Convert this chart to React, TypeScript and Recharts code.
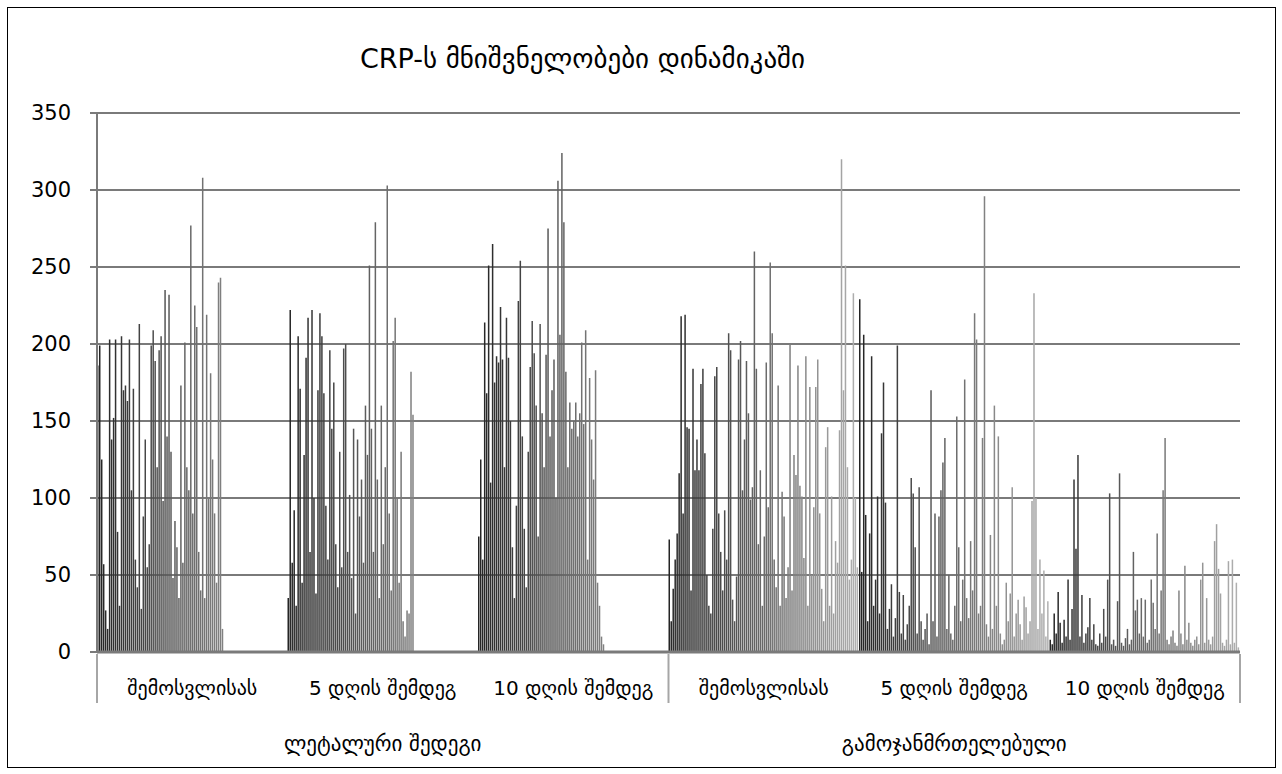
import React from "react";
import { BarChart, Bar, XAxis, YAxis, CartesianGrid } from "recharts";

// category labels (two levels)
const categories = [
  "შემოსვლისას",
  "5 დღის შემდეგ",
  "10 დღის შემდეგ",
  "შემოსვლისას",
  "5 დღის შემდეგ",
  "10 დღის შემდეგ",
];
const groups = [
  "ლეტალური შედეგი",
  "ლეტალური შედეგი",
  "ლეტალური შედეგი",
  "გამოჯანმრთელებული",
  "გამოჯანმრთელებული",
  "გამოჯანმრთელებული",
];
const yTicks = [0, 50, 100, 150, 200, 250, 300, 350];

// CRP per patient (one series per patient), lethal outcome: 64 patients
const lethalAdmission = [
  186, 199, 125, 57, 27, 15, 203, 138, 152, 203, 78, 30, 205, 170, 173, 163,
  203, 105, 171, 60, 42, 213, 28, 88, 138, 55, 70, 199, 209, 189, 120, 196,
  205, 98, 235, 140, 232, 130, 48, 85, 68, 35, 173, 58, 201, 120, 105, 277,
  90, 225, 211, 65, 40, 308, 35, 219, 100, 181, 125, 90, 45, 240, 243, 15,
];
const lethalDay5 = [
  35, 222, 58, 92, 30, 205, 171, 45, 128, 191, 217, 65, 222, 100, 38, 170,
  220, 205, 168, 95, 60, 196, 145, 175, 70, 42, 130, 55, 197, 200, 65, 102,
  48, 145, 25, 138, 88, 112, 58, 160, 128, 251, 145, 65, 279, 112, 35, 160,
  70, 120, 303, 90, 40, 202, 217, 100, 45, 130, 20, 10, 27, 25, 182, 154,
];
const lethalDay10 = [
  75, 125, 60, 214, 168, 251, 110, 265, 175, 192, 188, 224, 190, 120, 217, 191,
  150, 68, 35, 95, 228, 254, 140, 80, 42, 130, 185, 215, 194, 160, 75, 213,
  155, 120, 193, 275, 140, 170, 190, 100, 306, 206, 324, 279, 182, 120, 162, 145,
  150, 162, 140, 155, 201, 148, 209, 60, 178, 138, 112, 183, 45, 30, 10, 5,
];

// recovered: 96 patients
const recoveredAdmission = [
  73, 20, 41, 60, 77, 116, 218, 90, 219, 146, 145, 40, 184, 118, 138, 118,
  174, 184, 129, 50, 30, 25, 80, 179, 185, 90, 65, 40, 92, 60, 207, 196,
  34, 20, 49, 190, 202, 105, 138, 189, 155, 99, 107, 260, 184, 70, 118, 30,
  75, 188, 94, 253, 207, 60, 42, 173, 30, 104, 88, 35, 55, 200, 40, 128,
  115, 186, 108, 101, 61, 192, 30, 172, 50, 94, 172, 190, 90, 41, 20, 133,
  146, 30, 101, 25, 72, 58, 144, 320, 170, 251, 120, 47, 60, 233, 100, 55,
];
const recoveredDay5 = [
  229, 52, 206, 89, 20, 77, 192, 30, 47, 101, 25, 142, 175, 97, 15, 28,
  44, 10, 22, 199, 39, 12, 37, 8, 18, 30, 113, 103, 68, 12, 107, 20,
  8, 15, 25, 5, 170, 20, 90, 10, 88, 105, 123, 139, 15, 50, 12, 8,
  30, 153, 68, 20, 47, 177, 35, 22, 72, 40, 220, 203, 25, 30, 139, 296,
  18, 10, 76, 15, 160, 30, 140, 12, 5, 8, 45, 20, 38, 107, 10, 25,
  34, 18, 8, 36, 29, 12, 20, 98, 233, 100, 15, 60, 25, 53, 10, 33,
];
const recoveredDay10 = [
  8, 5, 25, 12, 39, 19, 6, 21, 10, 47, 8, 28, 112, 67, 128, 10,
  37, 6, 12, 16, 35, 8, 18, 5, 4, 12, 6, 28, 10, 47, 103, 5,
  8, 4, 33, 116, 6, 4, 9, 15, 5, 8, 65, 27, 34, 12, 35, 10,
  34, 6, 8, 47, 32, 15, 77, 12, 40, 105, 139, 8, 5, 10, 14, 6,
  4, 40, 12, 5, 56, 8, 19, 6, 4, 8, 10, 5, 47, 58, 6, 35,
  8, 5, 10, 72, 83, 54, 38, 6, 4, 8, 59, 5, 60, 6, 45, 3,
];

const SERIES = 96;
const columns = [
  lethalAdmission,
  lethalDay5,
  lethalDay10,
  recoveredAdmission,
  recoveredDay5,
  recoveredDay10,
];

const data = categories.map((cat, c) => {
  const row: Record<string, any> = { cat, group: groups[c] };
  for (let i = 0; i < SERIES; i++) row[`s${i}`] = columns[c][i] ?? null;
  return row;
});

const W = 1282;
const H = 774;
const PLOT_LEFT = 97;
const PLOT_RIGHT = 1240;
const PLOT_TOP = 113;
const PLOT_BOTTOM = 652;
const BAND = (PLOT_RIGHT - PLOT_LEFT) / categories.length;
const FONT = "'DejaVu Sans', sans-serif";
const AXIS = "#7a7a7a";

// dark-to-light grey per patient series
const shade = (i: number) => {
  const l = Math.round(36 + (140 * i) / (SERIES - 1));
  return `rgb(${l},${l},${l})`;
};

const CatTick = (props: any) => {
  const { x, payload, index } = props;
  const sepY1 = PLOT_BOTTOM + 2;
  const sepY2 = PLOT_BOTTOM + 51;
  return (
    <g>
      {(index === 0 || index === 3) && (
        <line x1={x - BAND / 2} x2={x - BAND / 2} y1={sepY1} y2={sepY2} stroke="#a6a6a6" strokeWidth={2} />
      )}
      {index === 5 && (
        <line x1={x + BAND / 2} x2={x + BAND / 2} y1={sepY1} y2={sepY2} stroke="#a6a6a6" strokeWidth={2} />
      )}
      <text x={x} y={PLOT_BOTTOM + 43} textAnchor="middle" fontSize={20} fontFamily={FONT} fill="#000">
        {payload.value}
      </text>
    </g>
  );
};

const GroupTick = (props: any) => {
  const { x, payload, index } = props;
  if (index !== 1 && index !== 4) return <g />;
  return (
    <text x={x} y={PLOT_BOTTOM + 99} textAnchor="middle" fontSize={21} fontFamily={FONT} fill="#000">
      {payload.value}
    </text>
  );
};

export default function App() {
  return (
    <div style={{ position: "absolute", left: 0, top: 0, width: W, height: H, background: "#fff" }}>
      <div
        style={{
          position: "absolute",
          left: 7,
          top: 7,
          width: 1267,
          height: 759,
          border: "1px solid #000",
        }}
      />
      <div
        style={{
          position: "absolute",
          left: 0,
          width: 1165,
          top: 43,
          textAlign: "center",
          fontFamily: FONT,
          fontSize: 27,
          color: "#000",
        }}
      >
        CRP-ს მნიშვნელობები დინამიკაში
      </div>
      <div style={{ position: "absolute", left: 0, top: 0 }}>
        <BarChart
          width={W}
          height={H}
          data={data}
          margin={{ top: PLOT_TOP, right: W - PLOT_RIGHT, left: PLOT_LEFT - 60, bottom: 12 }}
          barCategoryGap={0}
          barGap={0.48}
          barSize={1.5}
        >
          <CartesianGrid vertical={false} stroke={AXIS} strokeWidth={2.2} />
          <XAxis
            dataKey="cat"
            interval={0}
            axisLine={{ stroke: AXIS, strokeWidth: 3 }}
            tickLine={false}
            height={50}
            tick={<CatTick />}
          />
          <XAxis
            xAxisId="group"
            dataKey="group"
            interval={0}
            axisLine={false}
            tickLine={false}
            height={60}
            tick={<GroupTick />}
          />
          <YAxis
            domain={[0, 350]}
            ticks={yTicks}
            interval={0}
            width={60}
            tickSize={7}
            tickMargin={19}
            axisLine={{ stroke: AXIS, strokeWidth: 2 }}
            tickLine={{ stroke: AXIS, strokeWidth: 2 }}
            tick={{ fontSize: 21, fill: "#000", fontFamily: FONT }}
          />
          {Array.from({ length: SERIES }, (_, i) => (
            <Bar
              key={i}
              dataKey={`s${i}`}
              fill={shade(i)}
              barSize={1.5}
              isAnimationActive={false}
            />
          ))}
        </BarChart>
      </div>
    </div>
  );
}
